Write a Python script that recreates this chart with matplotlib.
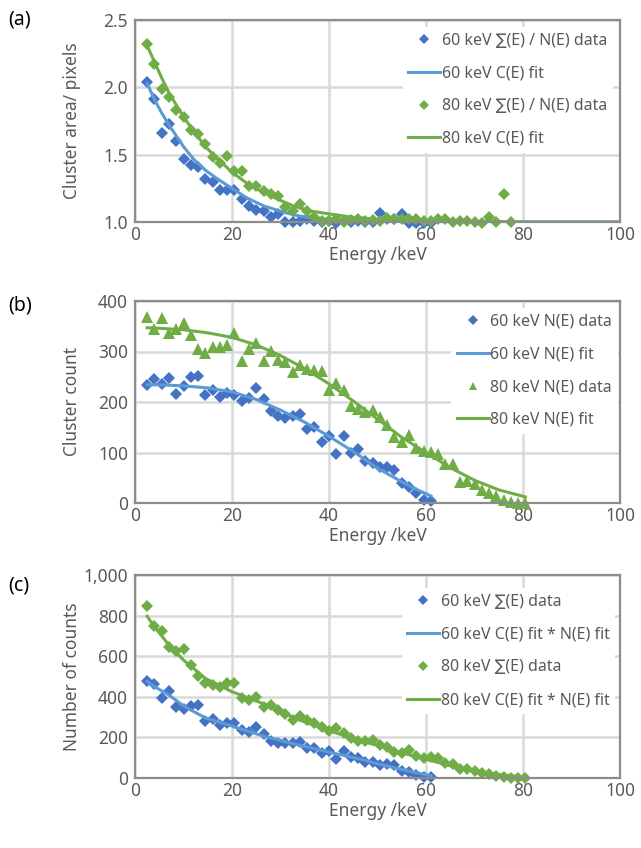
import matplotlib
matplotlib.use("Agg")
import matplotlib.pyplot as plt
from matplotlib.ticker import FuncFormatter, MultipleLocator

plt.rcParams['font.family'] = ['Noto Sans', 'DejaVu Sans']

# ---------------- data ----------------
energy_60 = [2.5, 4.0, 5.5, 7.0, 8.5, 10.0, 11.5, 13.0, 14.5, 16.0, 17.5, 19.0, 20.5,
             22.0, 23.5, 25.0, 26.5, 28.0, 29.5, 31.0, 32.5, 34.0, 35.5, 37.0, 38.5,
             40.0, 41.5, 43.0, 44.5, 46.0, 47.5, 49.0, 50.5, 52.0, 53.5, 55.0, 56.5,
             58.0, 59.5, 61.0]
energy_80 = [2.5, 4.0, 5.5, 7.0, 8.5, 10.0, 11.5, 13.0, 14.5, 16.0, 17.5, 19.0, 20.5,
             22.0, 23.5, 25.0, 26.5, 28.0, 29.5, 31.0, 32.5, 34.0, 35.5, 37.0, 38.5,
             40.0, 41.5, 43.0, 44.5, 46.0, 47.5, 49.0, 50.5, 52.0, 53.5, 55.0, 56.5,
             58.0, 59.5, 61.0, 62.5, 64.0, 65.5, 67.0, 68.5, 70.0, 71.5, 73.0, 74.5,
             76.0, 77.5, 79.0, 80.5]
energy_80_area = energy_80[:51]

# (a) mean cluster area Sigma(E)/N(E)
area_60 = [2.04, 1.91, 1.66, 1.73, 1.60, 1.47, 1.42, 1.41, 1.32, 1.30, 1.24, 1.24, 1.24,
           1.17, 1.12, 1.09, 1.08, 1.04, 1.06, 1.00, 1.00, 1.01, 1.02, 1.01, 1.00,
           1.01, 0.99, 1.01, 1.00, 1.01, 1.00, 1.00, 1.07, 1.02, 1.02, 1.06, 0.99,
           0.99, 0.99, 0.99]
area_80 = [2.32, 2.17, 1.99, 1.93, 1.83, 1.78, 1.68, 1.65, 1.58, 1.48, 1.44, 1.49, 1.38,
           1.38, 1.27, 1.27, 1.23, 1.21, 1.19, 1.11, 1.08, 1.13, 1.08, 1.04, 1.01,
           1.01, 1.02, 1.00, 1.015, 1.02, 1.01, 1.015, 1.01, 1.027, 1.02, 1.02, 1.02,
           1.02, 1.01, 1.01, 1.02, 1.02, 1.00, 1.01, 1.01, 1.00, 0.99, 1.035, 1.00,
           1.21, 1.00]
fit_energy_a = [2.5, 4, 5.5, 7, 8.5, 10, 12, 14.5, 17, 20, 23, 26.5, 30, 33, 36.5, 40,
                45, 50, 55, 60, 70, 80, 100]
area_fit_60 = [2.03, 1.91, 1.81, 1.72, 1.64, 1.56, 1.47, 1.385, 1.32, 1.25, 1.18, 1.12,
               1.08, 1.05, 1.03, 1.02, 1.01, 1.005, 1.003, 1.002, 1.001, 1.0, 1.0]
area_fit_80 = [2.31, 2.19, 2.07, 1.96, 1.87, 1.78, 1.68, 1.56, 1.47, 1.37, 1.29, 1.22,
               1.16, 1.115, 1.08, 1.06, 1.035, 1.02, 1.012, 1.008, 1.003, 1.001, 1.0]

# (b) cluster count N(E)
count_60 = [234, 245, 235, 247, 216, 232, 250, 252, 214, 224, 209, 218, 214, 201, 207,
            228, 205, 182, 172, 169, 172, 176, 146, 151, 121, 133, 97, 133, 100, 106,
            83, 80, 72, 72, 66, 39, 31, 20, 5, 3]
count_80 = [368, 344, 366, 336, 344, 357, 333, 304, 298, 308, 308, 313, 336, 281, 304,
            316, 281, 301, 283, 280, 259, 274, 266, 263, 261, 224, 238, 223, 193, 186,
            180, 184, 170, 154, 130, 120, 134, 109, 103, 101, 97, 78, 78, 41, 44, 38,
            26, 19, 14, 5, 1, 0, 0]
fit_energy_b60 = [2.5, 5, 10, 15, 20, 25, 30, 35, 40, 45, 50, 55, 58, 61]
count_fit_60 = [234, 234, 232, 228, 220, 205, 184, 160, 132, 102, 69, 42, 27, 14]
fit_energy_b80 = [2.5, 5, 10, 15, 20, 25, 30, 35, 40, 45, 50, 55, 60, 65, 70, 75, 80.5]
count_fit_80 = [347, 346, 343, 337, 328, 313, 292, 266, 236, 202, 166, 130, 100, 70,
                45, 26, 12]

# (c) total counts Sigma(E)
sum_60 = [479, 463, 392, 430, 351, 338, 355, 360, 282, 289, 261, 273, 270, 236, 228,
          250, 217, 184, 174, 174, 174, 177, 149, 146, 122, 135, 95, 133, 103, 100,
          78, 78, 66, 70, 62, 35, 28, 17, 4, 3]
sum_80 = [849, 749, 726, 647, 627, 634, 557, 504, 470, 458, 447, 470, 466, 392, 384,
          401, 351, 360, 335, 315, 286, 306, 287, 269, 251, 230, 245, 220, 195, 183,
          181, 185, 165, 152, 130, 122, 136, 106, 100, 105, 100, 72, 68, 43, 45, 36,
          26, 20, 12, 5, 2, 2, 1]
fit_energy_c60 = [2.5, 4, 7, 10, 14.5, 20, 26.5, 33, 40, 47, 50, 55, 58, 61]
sum_fit_60 = [476, 450, 409, 355, 296, 256, 206, 167, 127, 90, 70, 42, 26, 12]
fit_energy_c80 = [2.5, 4, 7, 10, 14.5, 20, 26.5, 33, 40, 47, 50.5, 55, 61, 65, 70, 75,
                  80.5]
sum_fit_80 = [797, 745, 655, 581, 491, 425, 366, 294, 233, 179, 158, 124, 86, 60, 38,
              17, 4]

# ---------------- style ----------------
BLUE_PT = '#4472C4'
BLUE_LN = '#5B9BD5'
GREEN = '#70AD47'
TEXT = '#595959'
GRID = '#D9D9D9'
FRAME = '#8C8C8C'

W, H = 641, 848
fig = plt.figure(figsize=(W / 100, H / 100), dpi=100)


def make_axes(top_px, bottom_px):
    left, right = 135, 620
    return fig.add_axes([left / W, 1 - bottom_px / H, (right - left) / W,
                         (bottom_px - top_px) / H])


def style(ax, ymin, ymax, ystep, ylabel, fmt):
    ax.set_xlim(0, 100)
    ax.set_ylim(ymin, ymax)
    ax.xaxis.set_major_locator(MultipleLocator(20))
    ax.yaxis.set_major_locator(MultipleLocator(ystep))
    ax.yaxis.set_major_formatter(FuncFormatter(fmt))
    ax.grid(True, color=GRID, linewidth=1.8)
    ax.set_axisbelow(True)
    for s in ax.spines.values():
        s.set_color(FRAME)
        s.set_linewidth(1.6)
    ax.tick_params(length=0, labelsize=12.5, labelcolor=TEXT)
    ax.tick_params(axis='x', pad=3)
    ax.tick_params(axis='y', pad=5)
    ax.set_xlabel('Energy /keV', fontsize=12.5, color=TEXT, labelpad=1)
    ax.set_ylabel(ylabel, fontsize=12.5, color=TEXT)
    ax.yaxis.set_label_coords(-0.112, 0.5)


def add_legend(ax, anchor, spacing):
    leg = ax.legend(loc='upper right', bbox_to_anchor=anchor, fontsize=11.5,
                    frameon=True, fancybox=False, framealpha=1, edgecolor='none',
                    facecolor='white', labelspacing=spacing, handlelength=2.0,
                    handletextpad=0.1, borderaxespad=0, borderpad=0.35,
                    numpoints=1, markerscale=0.8)
    for t in leg.get_texts():
        t.set_color(TEXT)
    return leg


ms_d = 5.8
ms_t = 8.0

# ---- (a) ----
ax_a = make_axes(20, 222)
ax_a.plot(energy_60, area_60, 'D', color=BLUE_PT, ms=ms_d, mew=0, clip_on=False,
          label='60 keV \u2211(E) / N(E) data')
ax_a.plot(fit_energy_a, area_fit_60, '-', color=BLUE_LN, lw=2.2,
          label='60 keV C(E) fit')
ax_a.plot(energy_80_area, area_80, 'D', color=GREEN, ms=ms_d, mew=0, clip_on=False,
          label='80 keV \u2211(E) / N(E) data')
ax_a.plot(fit_energy_a, area_fit_80, '-', color=GREEN, lw=2.2,
          label='80 keV C(E) fit')
style(ax_a, 1.0, 2.5, 0.5, 'Cluster area/ pixels', lambda v, p: f'{v:.1f}')
add_legend(ax_a, (0.985, 0.965), 1.05)

# ---- (b) ----
ax_b = make_axes(301, 503)
ax_b.plot(energy_60, count_60, 'D', color=BLUE_PT, ms=ms_d, mew=0, clip_on=False,
          label='60 keV N(E) data')
ax_b.plot(fit_energy_b60, count_fit_60, '-', color=BLUE_LN, lw=2.2,
          label='60 keV N(E) fit')
ax_b.plot(energy_80, count_80, '^', color=GREEN, ms=ms_t, mew=0, clip_on=False,
          label='80 keV N(E) data')
ax_b.plot(fit_energy_b80, count_fit_80, '-', color=GREEN, lw=2.2,
          label='80 keV N(E) fit')
style(ax_b, 0, 400, 100, 'Cluster count', lambda v, p: f'{v:.0f}')
add_legend(ax_b, (0.995, 0.965), 1.05)

# ---- (c) ----
ax_c = make_axes(575, 778)
ax_c.plot(energy_60, sum_60, 'D', color=BLUE_PT, ms=ms_d, mew=0, clip_on=False,
          label='60 keV \u2211(E) data')
ax_c.plot(fit_energy_c60, sum_fit_60, '-', color=BLUE_LN, lw=2.2,
          label='60 keV C(E) fit * N(E) fit')
ax_c.plot(energy_80, sum_80, 'D', color=GREEN, ms=ms_d, mew=0, clip_on=False,
          label='80 keV \u2211(E) data')
ax_c.plot(fit_energy_c80, sum_fit_80, '-', color=GREEN, lw=2.2,
          label='80 keV C(E) fit * N(E) fit')
style(ax_c, 0, 1000, 200, 'Number of counts', lambda v, p: f'{v:,.0f}')
add_legend(ax_c, (0.99, 0.935), 1.05)

# panel letters
for label, y in (('(a)', 20), ('(b)', 305), ('(c)', 585)):
    fig.text(8 / W, 1 - y / H, label, fontsize=14, color='black', va='center',
             ha='left')

fig.savefig('out.png', dpi=100)
